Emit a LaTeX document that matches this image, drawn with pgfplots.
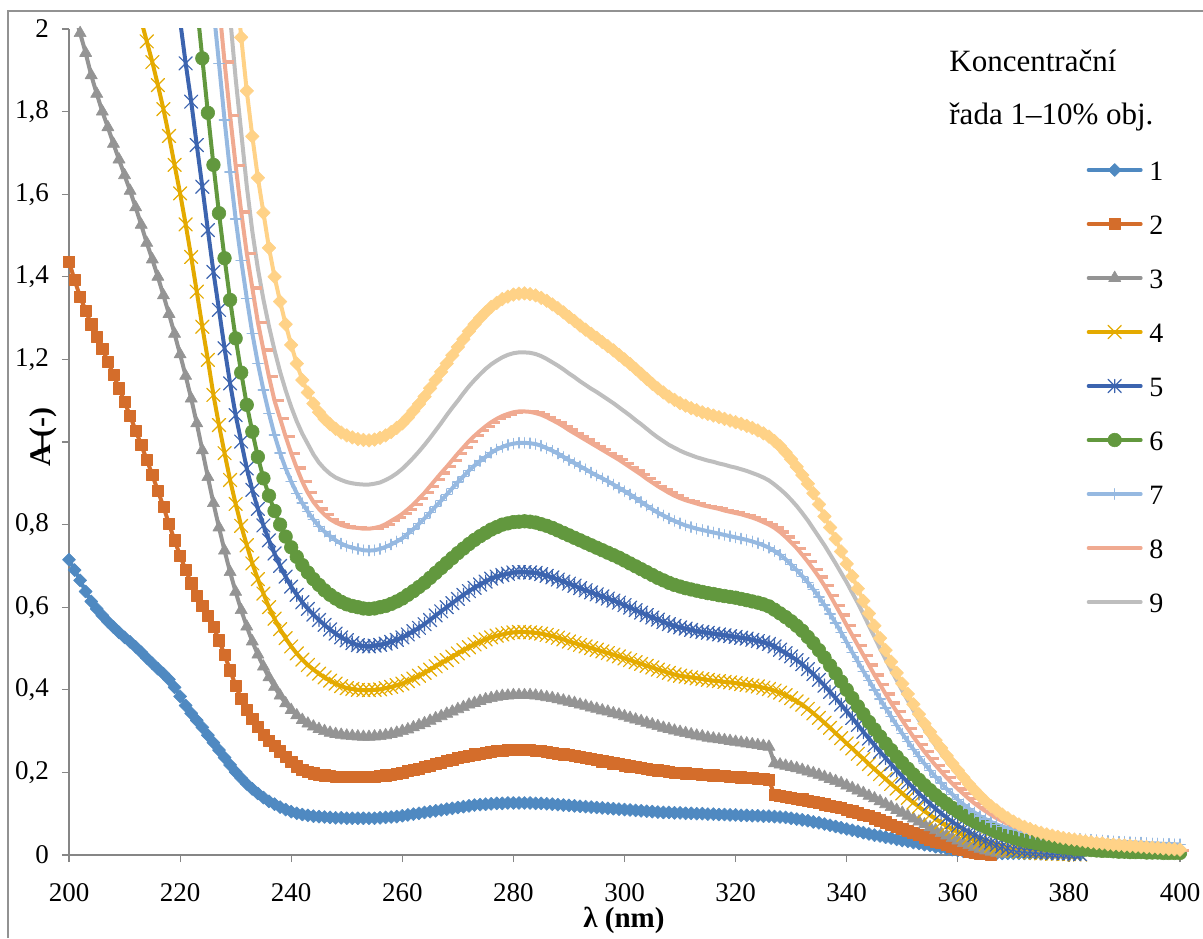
\documentclass[border=0pt]{standalone}
\usepackage{fontspec}
\setmainfont{Liberation Serif}
\usepackage{pgfplots}
\usepackage{pgfplotstable}
\pgfplotsset{compat=1.18}
\usetikzlibrary{plotmarks}
\definecolor{c1}{HTML}{4F89C1}
\definecolor{c2}{HTML}{D46D2B}
\definecolor{c3}{HTML}{949494}
\definecolor{c4}{HTML}{E4AA00}
\definecolor{c5}{HTML}{3C64AF}
\definecolor{c6}{HTML}{62983E}
\definecolor{c7}{HTML}{96B9E1}
\definecolor{c8}{HTML}{F0AA91}
\definecolor{c9}{HTML}{BEBEBE}
\definecolor{c10}{HTML}{FFD287}
\definecolor{axisgray}{HTML}{868686}
\pgfdeclareplotmark{xcross}{%
  \pgfpathmoveto{\pgfqpoint{-\pgfplotmarksize}{-\pgfplotmarksize}}%
  \pgfpathlineto{\pgfqpoint{\pgfplotmarksize}{\pgfplotmarksize}}%
  \pgfpathmoveto{\pgfqpoint{-\pgfplotmarksize}{\pgfplotmarksize}}%
  \pgfpathlineto{\pgfqpoint{\pgfplotmarksize}{-\pgfplotmarksize}}%
  \pgfusepathqstroke}
\pgfdeclareplotmark{xstar}{%
  \pgfpathmoveto{\pgfqpoint{-\pgfplotmarksize}{-\pgfplotmarksize}}%
  \pgfpathlineto{\pgfqpoint{\pgfplotmarksize}{\pgfplotmarksize}}%
  \pgfpathmoveto{\pgfqpoint{-\pgfplotmarksize}{\pgfplotmarksize}}%
  \pgfpathlineto{\pgfqpoint{\pgfplotmarksize}{-\pgfplotmarksize}}%
  \pgfpathmoveto{\pgfqpoint{0pt}{-\pgfplotmarksize}}%
  \pgfpathlineto{\pgfqpoint{0pt}{\pgfplotmarksize}}%
  \pgfusepathqstroke}
\pgfdeclareplotmark{rbar}{%
  \pgfpathrectangle{\pgfqpoint{0pt}{-0.8pt}}{\pgfqpoint{2\pgfplotmarksize}{1.6pt}}%
  \pgfusepathqfill}
% absorbance A (-) of the concentration series, wavelength lam in nm
\pgfplotstableread{
lam s1 s2 s3 s4 s5 s6 s7 s8 s9 s10
200 0.715 1.437 nan nan nan nan nan nan nan nan
201 0.690 1.392 2.040 nan nan nan nan nan nan nan
202 0.665 1.352 1.990 nan nan nan nan nan nan nan
203 0.638 1.318 1.942 nan nan nan nan nan nan nan
204 0.614 1.285 1.888 nan nan nan nan nan nan nan
205 0.596 1.255 1.843 nan nan nan nan nan nan nan
206 0.580 1.225 1.800 nan nan nan nan nan nan nan
207 0.565 1.195 1.762 nan nan nan nan nan nan nan
208 0.552 1.163 1.722 nan nan nan nan nan nan nan
209 0.539 1.130 1.684 nan nan nan nan nan nan nan
210 0.527 1.097 1.646 nan nan nan nan nan nan nan
211 0.516 1.063 1.608 nan nan nan nan nan nan nan
212 0.504 1.028 1.568 nan nan nan nan nan nan nan
213 0.491 0.993 1.526 2.020 nan nan nan nan nan nan
214 0.477 0.957 1.482 1.970 nan nan nan nan nan nan
215 0.464 0.920 1.442 1.920 nan nan nan nan nan nan
216 0.451 0.882 1.400 1.864 nan nan nan nan nan nan
217 0.439 0.843 1.355 1.806 nan nan nan nan nan nan
218 0.425 0.802 1.310 1.741 nan nan nan nan nan nan
219 0.406 0.762 1.262 1.671 nan nan nan nan nan nan
220 0.384 0.725 1.212 1.602 2.020 nan nan nan nan nan
221 0.362 0.690 1.160 1.527 1.917 nan nan nan nan nan
222 0.343 0.658 1.105 1.448 1.824 nan nan nan nan nan
223 0.326 0.628 1.045 1.364 1.719 2.060 nan nan nan nan
224 0.309 0.603 0.980 1.279 1.618 1.929 nan nan nan nan
225 0.290 0.580 0.915 1.199 1.513 1.797 nan nan nan nan
226 0.272 0.553 0.852 1.114 1.412 1.671 2.050 nan nan nan
227 0.254 0.520 0.793 1.041 1.320 1.554 1.917 2.060 nan nan
228 0.236 0.485 0.737 0.973 1.227 1.445 1.780 1.920 nan nan
229 0.218 0.447 0.685 0.908 1.142 1.344 1.654 1.790 2.030 nan
230 0.201 0.410 0.637 0.850 1.065 1.251 1.540 1.670 1.880 2.120
231 0.186 0.378 0.593 0.797 1.001 1.168 1.440 1.557 1.750 1.980
232 0.172 0.352 0.553 0.750 0.936 1.090 1.348 1.457 1.620 1.850
233 0.160 0.330 0.517 0.706 0.884 1.025 1.263 1.373 1.510 1.740
234 0.149 0.310 0.485 0.668 0.838 0.964 1.190 1.290 1.420 1.640
235 0.139 0.292 0.456 0.633 0.798 0.912 1.126 1.223 1.345 1.555
236 0.130 0.277 0.430 0.600 0.762 0.870 1.069 1.158 1.280 1.470
237 0.123 0.264 0.407 0.572 0.730 0.833 1.017 1.100 1.222 1.400
238 0.116 0.251 0.386 0.547 0.700 0.800 0.973 1.057 1.170 1.340
239 0.110 0.238 0.367 0.525 0.674 0.771 0.936 1.013 1.125 1.285
240 0.105 0.226 0.351 0.505 0.650 0.745 0.904 0.973 1.085 1.235
241 0.101 0.215 0.338 0.488 0.630 0.722 0.876 0.937 1.050 1.190
242 0.098 0.207 0.327 0.473 0.612 0.702 0.852 0.904 1.020 1.150
243 0.096 0.202 0.318 0.460 0.596 0.684 0.831 0.877 0.995 1.120
244 0.094 0.198 0.311 0.449 0.582 0.668 0.812 0.855 0.970 1.093
245 0.093 0.195 0.305 0.439 0.569 0.654 0.796 0.838 0.950 1.072
246 0.092 0.193 0.300 0.430 0.557 0.641 0.783 0.824 0.935 1.056
247 0.091 0.191 0.296 0.422 0.546 0.630 0.772 0.813 0.923 1.043
248 0.090 0.190 0.293 0.415 0.536 0.621 0.762 0.805 0.914 1.032
249 0.090 0.189 0.291 0.409 0.527 0.613 0.754 0.799 0.908 1.023
250 0.089 0.189 0.289 0.404 0.520 0.607 0.748 0.795 0.903 1.016
251 0.089 0.189 0.288 0.402 0.513 0.603 0.744 0.793 0.900 1.011
252 0.089 0.189 0.287 0.400 0.508 0.600 0.741 0.792 0.898 1.007
253 0.089 0.189 0.286 0.399 0.506 0.597 0.738 0.790 0.897 1.005
254 0.089 0.189 0.286 0.399 0.505 0.596 0.737 0.790 0.897 1.004
255 0.089 0.190 0.287 0.400 0.507 0.597 0.738 0.792 0.899 1.006
256 0.090 0.191 0.288 0.401 0.509 0.600 0.741 0.795 0.902 1.010
257 0.091 0.193 0.290 0.404 0.512 0.603 0.746 0.801 0.908 1.016
258 0.092 0.195 0.293 0.407 0.516 0.608 0.752 0.809 0.915 1.024
259 0.093 0.197 0.296 0.411 0.521 0.614 0.759 0.817 0.924 1.034
260 0.095 0.200 0.300 0.415 0.527 0.621 0.767 0.826 0.935 1.045
261 0.097 0.203 0.304 0.421 0.534 0.630 0.778 0.837 0.948 1.059
262 0.099 0.206 0.309 0.427 0.542 0.639 0.789 0.849 0.962 1.075
263 0.101 0.209 0.314 0.434 0.550 0.649 0.802 0.863 0.977 1.092
264 0.103 0.213 0.319 0.441 0.559 0.659 0.815 0.877 0.993 1.110
265 0.105 0.216 0.325 0.449 0.569 0.671 0.829 0.893 1.010 1.130
266 0.107 0.220 0.331 0.457 0.580 0.683 0.844 0.909 1.028 1.150
267 0.109 0.224 0.336 0.465 0.590 0.695 0.858 0.925 1.046 1.170
268 0.111 0.228 0.342 0.472 0.600 0.707 0.873 0.940 1.065 1.190
269 0.113 0.231 0.347 0.480 0.610 0.719 0.888 0.956 1.083 1.210
270 0.115 0.235 0.353 0.488 0.620 0.731 0.903 0.972 1.100 1.230
271 0.117 0.238 0.358 0.496 0.630 0.742 0.917 0.987 1.118 1.249
272 0.119 0.241 0.364 0.503 0.639 0.753 0.931 1.002 1.135 1.268
273 0.121 0.244 0.368 0.510 0.647 0.763 0.943 1.015 1.150 1.285
274 0.122 0.246 0.373 0.516 0.655 0.772 0.954 1.027 1.164 1.300
275 0.123 0.248 0.377 0.522 0.662 0.780 0.964 1.038 1.177 1.314
276 0.124 0.250 0.380 0.527 0.669 0.788 0.974 1.048 1.188 1.327
277 0.125 0.252 0.383 0.531 0.674 0.794 0.982 1.056 1.197 1.337
278 0.125 0.253 0.385 0.534 0.678 0.800 0.988 1.063 1.205 1.346
279 0.126 0.254 0.386 0.537 0.681 0.803 0.993 1.068 1.211 1.352
280 0.126 0.254 0.387 0.539 0.684 0.806 0.996 1.072 1.215 1.357
281 0.126 0.254 0.387 0.540 0.685 0.807 0.998 1.074 1.217 1.359
282 0.126 0.254 0.387 0.540 0.685 0.808 0.998 1.074 1.217 1.360
283 0.126 0.254 0.387 0.539 0.684 0.807 0.997 1.073 1.216 1.358
284 0.125 0.253 0.386 0.538 0.683 0.805 0.995 1.070 1.213 1.355
285 0.125 0.252 0.384 0.536 0.680 0.801 0.991 1.066 1.208 1.349
286 0.124 0.250 0.382 0.533 0.676 0.797 0.985 1.060 1.201 1.342
287 0.123 0.248 0.380 0.530 0.672 0.792 0.979 1.053 1.193 1.333
288 0.122 0.246 0.377 0.526 0.667 0.786 0.972 1.046 1.185 1.324
289 0.121 0.244 0.374 0.522 0.662 0.780 0.964 1.038 1.176 1.314
290 0.120 0.242 0.371 0.517 0.657 0.774 0.956 1.029 1.166 1.303
291 0.119 0.240 0.368 0.513 0.652 0.768 0.949 1.021 1.157 1.293
292 0.118 0.237 0.364 0.509 0.646 0.762 0.941 1.013 1.147 1.282
293 0.117 0.235 0.361 0.505 0.641 0.756 0.934 1.005 1.138 1.272
294 0.116 0.232 0.357 0.501 0.636 0.750 0.926 0.997 1.129 1.262
295 0.115 0.230 0.354 0.497 0.631 0.744 0.919 0.989 1.121 1.252
296 0.114 0.227 0.350 0.493 0.626 0.738 0.912 0.981 1.112 1.242
297 0.113 0.225 0.347 0.489 0.621 0.732 0.905 0.973 1.103 1.232
298 0.112 0.222 0.343 0.485 0.616 0.726 0.897 0.965 1.094 1.222
299 0.111 0.220 0.340 0.481 0.611 0.720 0.889 0.957 1.084 1.211
300 0.110 0.217 0.336 0.476 0.605 0.713 0.881 0.948 1.074 1.200
301 0.109 0.215 0.332 0.472 0.599 0.706 0.873 0.939 1.064 1.189
302 0.108 0.213 0.328 0.467 0.593 0.699 0.864 0.930 1.053 1.177
303 0.107 0.211 0.324 0.463 0.587 0.692 0.855 0.921 1.043 1.165
304 0.106 0.209 0.320 0.458 0.581 0.685 0.846 0.911 1.032 1.153
305 0.105 0.207 0.316 0.454 0.575 0.678 0.837 0.902 1.021 1.141
306 0.104 0.205 0.312 0.449 0.570 0.671 0.829 0.893 1.011 1.130
307 0.103 0.204 0.308 0.445 0.564 0.665 0.822 0.885 1.002 1.120
308 0.103 0.202 0.305 0.441 0.559 0.659 0.815 0.877 0.993 1.110
309 0.102 0.200 0.301 0.437 0.555 0.654 0.809 0.870 0.986 1.102
310 0.102 0.199 0.298 0.434 0.551 0.650 0.803 0.864 0.979 1.094
311 0.101 0.198 0.295 0.432 0.548 0.646 0.798 0.859 0.973 1.088
312 0.101 0.197 0.292 0.430 0.545 0.643 0.794 0.855 0.968 1.082
313 0.100 0.196 0.289 0.428 0.542 0.640 0.790 0.851 0.963 1.077
314 0.100 0.195 0.287 0.426 0.540 0.637 0.787 0.847 0.959 1.072
315 0.099 0.194 0.284 0.424 0.538 0.634 0.784 0.844 0.955 1.068
316 0.099 0.193 0.282 0.422 0.536 0.632 0.781 0.841 0.952 1.064
317 0.098 0.192 0.280 0.421 0.534 0.629 0.778 0.838 0.948 1.060
318 0.098 0.191 0.278 0.419 0.532 0.627 0.775 0.834 0.945 1.056
319 0.097 0.190 0.276 0.418 0.530 0.625 0.772 0.831 0.941 1.052
320 0.097 0.189 0.274 0.416 0.528 0.623 0.769 0.828 0.938 1.048
321 0.096 0.188 0.272 0.414 0.526 0.620 0.766 0.825 0.934 1.044
322 0.096 0.187 0.270 0.412 0.524 0.617 0.763 0.821 0.930 1.039
323 0.095 0.186 0.268 0.410 0.521 0.614 0.759 0.817 0.925 1.034
324 0.095 0.185 0.266 0.408 0.518 0.611 0.755 0.812 0.920 1.028
325 0.094 0.184 0.264 0.405 0.515 0.607 0.750 0.806 0.914 1.021
326 0.094 0.182 0.262 0.402 0.511 0.602 0.744 0.800 0.907 1.013
327 0.093 0.145 0.222 0.398 0.505 0.594 0.736 0.792 0.897 1.002
328 0.092 0.143 0.219 0.393 0.497 0.585 0.727 0.782 0.886 0.990
329 0.091 0.141 0.216 0.387 0.489 0.576 0.716 0.770 0.874 0.975
330 0.089 0.139 0.213 0.380 0.481 0.566 0.703 0.757 0.860 0.958
331 0.087 0.137 0.210 0.372 0.472 0.555 0.690 0.743 0.845 0.940
332 0.085 0.135 0.206 0.364 0.462 0.543 0.675 0.727 0.828 0.920
333 0.083 0.132 0.202 0.354 0.450 0.528 0.660 0.710 0.810 0.899
334 0.080 0.129 0.198 0.343 0.438 0.513 0.643 0.692 0.790 0.876
335 0.078 0.126 0.194 0.332 0.424 0.496 0.625 0.673 0.770 0.849
336 0.075 0.123 0.189 0.320 0.410 0.478 0.605 0.652 0.750 0.820
337 0.072 0.120 0.184 0.308 0.395 0.459 0.584 0.629 0.728 0.793
338 0.069 0.117 0.179 0.295 0.380 0.440 0.562 0.605 0.706 0.765
339 0.066 0.114 0.174 0.283 0.364 0.420 0.539 0.581 0.683 0.735
340 0.063 0.110 0.168 0.270 0.348 0.400 0.515 0.556 0.660 0.705
341 0.060 0.106 0.162 0.258 0.332 0.380 0.491 0.532 0.635 0.675
342 0.057 0.102 0.156 0.245 0.315 0.360 0.468 0.508 0.610 0.645
343 0.054 0.098 0.150 0.233 0.298 0.341 0.445 0.484 0.583 0.615
344 0.051 0.094 0.143 0.220 0.282 0.322 0.423 0.460 0.555 0.585
345 0.048 0.089 0.137 0.208 0.266 0.304 0.400 0.436 0.528 0.555
346 0.046 0.084 0.130 0.196 0.250 0.287 0.378 0.413 0.500 0.525
347 0.043 0.079 0.123 0.184 0.235 0.270 0.356 0.390 0.474 0.496
348 0.041 0.074 0.116 0.172 0.220 0.254 0.335 0.368 0.448 0.468
349 0.038 0.069 0.109 0.161 0.205 0.238 0.314 0.347 0.423 0.441
350 0.035 0.064 0.102 0.149 0.190 0.223 0.294 0.326 0.398 0.415
351 0.033 0.059 0.095 0.138 0.176 0.209 0.275 0.306 0.374 0.390
352 0.030 0.053 0.088 0.127 0.162 0.195 0.256 0.286 0.350 0.365
353 0.028 0.048 0.081 0.117 0.149 0.182 0.238 0.268 0.327 0.341
354 0.025 0.043 0.074 0.106 0.136 0.169 0.221 0.250 0.305 0.318
355 0.023 0.038 0.067 0.097 0.124 0.157 0.205 0.233 0.285 0.298
356 0.020 0.033 0.060 0.087 0.112 0.145 0.189 0.217 0.265 0.278
357 0.018 0.029 0.053 0.079 0.101 0.134 0.174 0.202 0.246 0.259
358 0.015 0.024 0.047 0.070 0.090 0.124 0.160 0.187 0.228 0.240
359 0.013 0.020 0.041 0.063 0.080 0.114 0.147 0.173 0.211 0.222
360 0.011 0.016 0.035 0.055 0.071 0.105 0.134 0.160 0.194 0.205
361 0.009 0.012 0.029 0.048 0.063 0.096 0.123 0.148 0.179 0.188
362 0.008 0.009 0.024 0.042 0.055 0.088 0.112 0.136 0.164 0.172
363 0.007 0.006 0.019 0.036 0.048 0.081 0.103 0.125 0.151 0.157
364 0.006 0.004 0.015 0.031 0.041 0.074 0.094 0.115 0.138 0.143
365 0.005 0.002 0.011 0.026 0.035 0.068 0.087 0.106 0.127 0.130
366 0.005 0.001 0.008 0.022 0.030 0.062 0.080 0.097 0.116 0.118
367 0.004 nan 0.005 0.018 0.025 0.056 0.074 0.089 0.106 0.108
368 0.004 nan 0.003 0.015 0.021 0.051 0.069 0.082 0.097 0.098
369 0.004 nan nan 0.012 0.017 0.046 0.065 0.075 0.089 0.089
370 0.004 nan nan 0.010 0.014 0.042 0.062 0.069 0.082 0.081
371 0.004 nan nan 0.008 0.012 0.038 0.059 0.063 0.075 0.074
372 0.004 nan nan 0.007 0.010 0.035 0.056 0.058 0.069 0.068
373 0.004 nan nan 0.006 0.009 0.032 0.053 0.053 0.063 0.063
374 0.004 nan nan 0.005 0.008 0.029 0.051 0.049 0.058 0.058
375 0.003 nan nan 0.004 0.007 0.026 0.049 0.045 0.054 0.054
376 0.003 nan nan 0.004 0.006 0.024 0.047 0.042 0.050 0.050
377 0.003 nan nan 0.003 0.005 0.022 0.045 0.039 0.046 0.047
378 0.003 nan nan 0.003 0.005 0.020 0.044 0.036 0.043 0.044
379 0.002 nan nan 0.002 0.004 0.018 0.042 0.033 0.040 0.041
380 0.002 nan nan 0.002 0.004 0.017 0.041 0.031 0.038 0.039
381 0.002 nan nan 0.001 0.003 0.015 0.040 0.029 0.036 0.037
382 0.002 nan nan 0.001 0.002 0.014 0.039 0.027 0.034 0.035
383 nan nan nan nan nan 0.013 0.038 0.025 0.032 0.033
384 nan nan nan nan nan 0.012 0.037 0.024 0.030 0.031
385 nan nan nan nan nan 0.011 0.036 0.022 0.028 0.029
386 nan nan nan nan nan 0.010 0.035 0.021 0.027 0.028
387 nan nan nan nan nan 0.010 0.034 0.020 0.025 0.026
388 nan nan nan nan nan 0.009 0.033 0.019 0.024 0.025
389 nan nan nan nan nan 0.008 0.032 0.018 0.023 0.024
390 nan nan nan nan nan 0.008 0.032 0.017 0.022 0.023
391 nan nan nan nan nan 0.007 0.031 0.016 0.021 0.022
392 nan nan nan nan nan 0.007 0.030 0.015 0.020 0.021
393 nan nan nan nan nan 0.007 0.030 0.015 0.019 0.020
394 nan nan nan nan nan 0.006 0.029 0.014 0.018 0.019
395 nan nan nan nan nan 0.006 0.028 0.013 0.017 0.018
396 nan nan nan nan nan 0.006 0.028 0.013 0.016 0.017
397 nan nan nan nan nan 0.005 0.027 0.012 0.015 0.016
398 nan nan nan nan nan 0.005 0.027 0.012 0.015 0.015
399 nan nan nan nan nan 0.005 0.026 0.011 0.014 0.014
400 nan nan nan nan nan 0.005 0.026 0.011 0.013 0.013
}\spectra
\begin{document}
\begin{tikzpicture}
\useasboundingbox (0,0) rectangle (601.5pt,469pt);
\draw[color=axisgray!90, line width=0.6pt] (4pt,0pt) -- (4pt,463.5pt) -- (601.5pt,463.5pt);
\begin{axis}[
  at={(34.5pt,41.5pt)}, anchor=south west,
  scale only axis, width=555.5pt, height=413pt,
  xmin=200, xmax=400, ymin=0, ymax=2,
  xtick={200,220,...,400},
  ytick={0,0.2,0.4,0.6,0.8,1,1.2,1.4,1.6,1.8,2},
  axis x line*=bottom, axis y line*=left,
  tick align=outside, major tick length=3.5pt,
  tick style={color=axisgray, line width=0.6pt},
  axis line style={color=axisgray, line width=0.6pt},
  tick label style={font=\fontsize{13.5}{16}\selectfont},
  xticklabel style={inner ysep=1pt, yshift=-9.5pt},
  yticklabel style={xshift=-3pt},
  /pgf/number format/use comma,
  /pgf/number format/assume math mode=true,
  unbounded coords=discard,
  every axis plot/.append style={line width=2pt, line join=round, line cap=round},
  legend image code/.code={\draw[mark repeat=2,mark phase=2,#1] plot coordinates {(0pt,0pt) (13pt,0pt) (26pt,0pt)};},
  legend style={at={(0.916,0.8414)}, anchor=north west, draw=none, fill=none,
    font=\fontsize{14}{16}\selectfont, inner sep=0pt, outer sep=0pt,
    row sep=17pt, column sep=3.3pt,
    nodes={inner sep=0pt, text height=10pt, text depth=0pt}},
  legend cell align=left,
]
\addplot[color=c1, mark=square*, mark size=2.3pt, mark options={rotate=45, solid, line width=0.3pt}] table[x=lam, y=s1] {\spectra};
\addlegendentry{1}
\addplot[color=c2, mark=square*, mark size=2.8pt, mark options={solid, line width=0.3pt}] table[x=lam, y=s2] {\spectra};
\addlegendentry{2}
\addplot[color=c3, mark=triangle*, mark size=3.5pt, mark options={solid, line width=0.3pt}] table[x=lam, y=s3] {\spectra};
\addlegendentry{3}
\addplot[color=c4, mark=xcross, mark size=3.3pt, mark options={solid, line width=0.6pt}] table[x=lam, y=s4] {\spectra};
\addlegendentry{4}
\addplot[color=c5, mark=xstar, mark size=3.3pt, mark options={solid, line width=0.6pt}] table[x=lam, y=s5] {\spectra};
\addlegendentry{5}
\addplot[color=c6, mark=*, mark size=3.4pt, mark options={solid, line width=0.3pt}] table[x=lam, y=s6] {\spectra};
\addlegendentry{6}
\addplot[color=c7, mark=+, mark size=2.6pt, mark options={solid, line width=0.7pt}] table[x=lam, y=s7] {\spectra};
\addlegendentry{7}
\addplot[color=c8, mark=rbar, mark size=2.3pt, mark options={solid}] table[x=lam, y=s8] {\spectra};
\addlegendentry{8}
\addplot[color=c9, no marks] table[x=lam, y=s9] {\spectra};
\addlegendentry{9}
\addplot[color=c10, mark=square*, mark size=2.4pt, mark options={rotate=45, solid, line width=0.3pt}, forget plot] table[x=lam, y=s10] {\spectra};
\end{axis}
\node[rotate=90, font=\bfseries\fontsize{15}{17}\selectfont] at (21.5pt,250.5pt) {A (-)};
\node[font=\bfseries\fontsize{14.5}{17}\selectfont, inner sep=0pt] at (312pt,9pt) {λ (nm)};
\node[anchor=base west, font=\fontsize{15.5}{18}\selectfont, inner sep=0pt] at (474.5pt,433pt) {Koncentrační};
\node[anchor=base west, font=\fontsize{15.5}{18}\selectfont, inner sep=0pt] at (474.5pt,406.5pt) {řada 1–10\% obj.};
\end{tikzpicture}
\end{document}
